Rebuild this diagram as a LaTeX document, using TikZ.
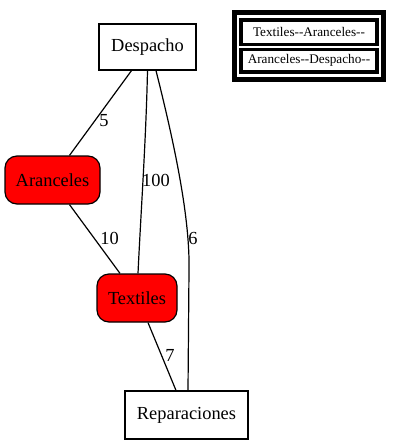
\documentclass[tikz,border=0pt]{standalone}
\usepackage{fontspec}
\setmainfont{Liberation Serif}
\begin{document}
\begin{tikzpicture}[x=1pt,y=-1pt,
  every node/.style={inner sep=0pt, font=\fontsize{18.4}{20}\selectfont},
  plainbox/.style={draw, line width=1.2pt, fill=white},
  redbox/.style={draw, line width=1.2pt, fill=red, rounded corners=12pt},
  conn/.style={line width=1.2pt},
  elabel/.style={font=\fontsize{18.4}{20}\selectfont},
  legbox/.style={draw, line width=3.6pt, minimum width=136pt, inner sep=0pt, font=\fontsize{13.2}{14}\selectfont},
  legouter/.style={draw, line width=5pt, minimum width=148.5pt, minimum height=67pt}
]
\useasboundingbox[fill=white] (0,0) rectangle (401,445);
\node[plainbox, minimum width=97pt, minimum height=46pt] (D) at (147.5,47) {Despacho};
\node[plainbox, minimum width=123pt, minimum height=48pt] (R) at (186.5,415) {Reparaciones};
\node[redbox, minimum width=95pt, minimum height=48pt] (A) at (52.5,180) {Aranceles};
\node[redbox, minimum width=80pt, minimum height=48pt] (T) at (137,298) {Textiles};

\draw[conn] ([xshift=-16pt]D.south) -- ([xshift=17pt]A.north);
\draw[conn] (D.south) .. controls (146,140) and (141,210) .. ([xshift=1pt]T.north);
\draw[conn] ([xshift=8.5pt]D.south) .. controls (176,150) and (190,220) .. (189,270) -- ([xshift=1.5pt]R.north);
\draw[conn] ([xshift=17pt]A.south) -- ([xshift=-17pt]T.north);
\draw[conn] ([xshift=11pt]T.south) -- ([xshift=-10.5pt]R.north);

\node[elabel] (l5) at (104,121) {5};
\node[elabel] (l100) at (156,180) {100};
\node[elabel] (l6) at (193,238) {6};
\node[elabel] (l10) at (109.5,238) {10};
\node[elabel] (l7) at (170,355) {7};

\node[legouter] (L) at (308.75,46) {};
\node[legbox, minimum height=24.5pt] (L1) at (309,32.25) {Textiles-{}-Aranceles-{}-};
\node[legbox, minimum height=22.5pt] (L2) at (309,60.75) {Aranceles-{}-Despacho-{}-};
\end{tikzpicture}
\end{document}
